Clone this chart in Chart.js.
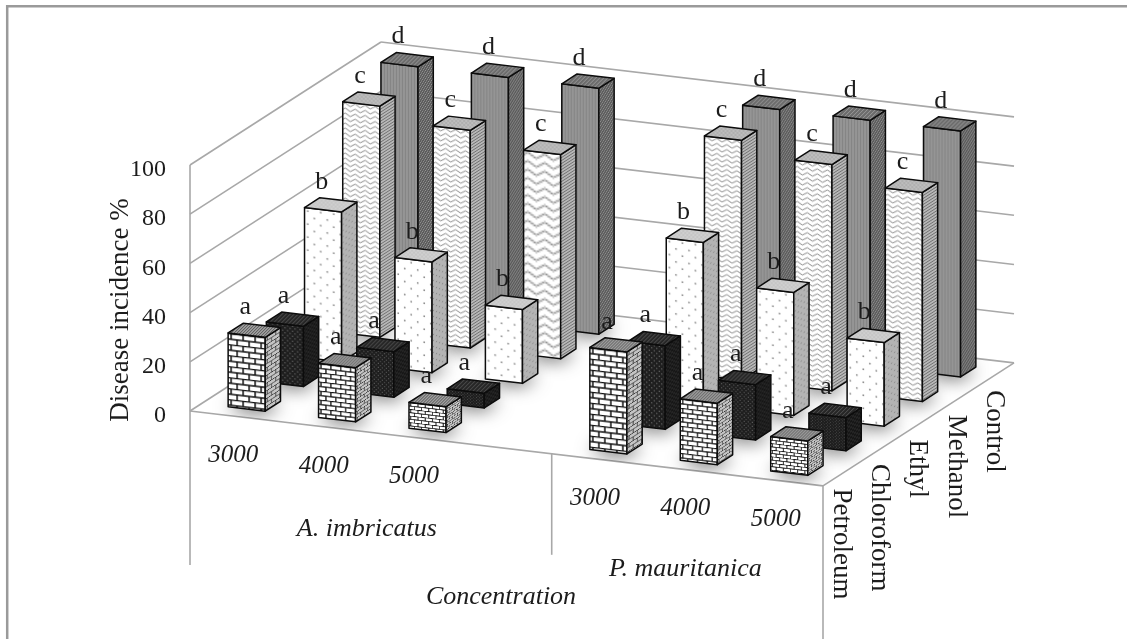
<!DOCTYPE html>
<html>
<head>
<meta charset="utf-8">
<style>
html, body { margin: 0; padding: 0; background: #fff; }
#wrap { width: 1127px; height: 639px; position: relative; }
</style>
</head>
<body>
<div id="wrap"><canvas id="c" width="1127" height="639"></canvas></div>
<script src="https://cdn.jsdelivr.net/npm/chart.js@4"></script>
<script>
// values, blank slot separates the two species
const concentrations = ['3000', '4000', '5000', '', '3000', '4000', '5000'];
const solvents = ['Petroleum', 'Chloroform', 'Ethyl', 'Methanol', 'Control'];
const letters = ['a', 'a', 'b', 'c', 'd'];
const species = ['A. imbricatus', 'P. mauritanica'];
const petroleum = [30, 22, 10.5, null, 41.5, 25, 14];
const chloroform = [24.5, 18.5, 6, null, 34, 22.5, 13.5];
const ethyl = [61, 45, 30, null, 66, 50, 34];
const methanol = [94, 88.5, 83, null, 97.5, 92, 85];
const control = [100, 100, 100, null, 100, 100, 100];

const SERIF = '"Liberation Serif", serif';
const GRID = '#a8a8a8';
const TEXT = '#1c1c1c';

// oblique projection of the floor, pixels per slot
const DEPTH_X = 38.2, DEPTH_Y = -24.6, SKEW_Y = 10.7;
const BAR_W = 0.41, BAR_D = 0.4;

function tile(w, h, scale, draw) {
    const c = document.createElement('canvas');
    c.width = w; c.height = h;
    draw(c.getContext('2d'));
    const p = document.getElementById('c').getContext('2d').createPattern(c, 'repeat');
    p.setTransform(new DOMMatrix().scale(scale));
    return p;
}

function brick(bg, line, lw, scale) {
    return tile(12, 11, scale, g => {
        g.fillStyle = bg; g.fillRect(0, 0, 12, 11);
        g.strokeStyle = line; g.lineWidth = lw;
        g.beginPath();
        g.moveTo(0, 0.5); g.lineTo(12, 0.5);
        g.moveTo(0, 6); g.lineTo(12, 6);
        g.moveTo(3, 0); g.lineTo(3, 6);
        g.moveTo(9, 6); g.lineTo(9, 11);
        g.stroke();
    });
}

function dots(bg, dot, size, r, scale) {
    return tile(size, size, scale || 1, g => {
        g.fillStyle = bg; g.fillRect(0, 0, size, size);
        g.fillStyle = dot;
        g.fillRect(size / 4 - r / 2, size / 4 - r / 2, r, r);
        g.fillRect(3 * size / 4 - r / 2, 3 * size / 4 - r / 2, r, r);
    });
}

function wave(scale) {
    return tile(10, 5, scale, g => {
        g.fillStyle = '#fff'; g.fillRect(0, 0, 10, 5);
        g.strokeStyle = '#8a8a8a'; g.lineWidth = 1;
        g.beginPath();
        g.moveTo(0, 2.5);
        g.quadraticCurveTo(2.5, -0.5, 5, 2.5);
        g.quadraticCurveTo(7.5, 5.5, 10, 2.5);
        g.stroke();
    });
}

function hstripes(bg, line, gap) {
    return tile(4, gap, 1, g => {
        g.fillStyle = bg; g.fillRect(0, 0, 4, gap);
        g.fillStyle = line; g.fillRect(0, 0, 4, 1);
    });
}

function vstripes(bg, line, gap) {
    return tile(gap, 4, 1, g => {
        g.fillStyle = bg; g.fillRect(0, 0, gap, 4);
        g.fillStyle = line; g.fillRect(0, 0, 1, 4);
    });
}

function diag(bg, line, gap) {
    return tile(gap, gap, 1, g => {
        g.fillStyle = bg; g.fillRect(0, 0, gap, gap);
        g.strokeStyle = line; g.lineWidth = 1;
        g.beginPath();
        g.moveTo(-1, 1); g.lineTo(1, -1);
        g.moveTo(0, gap); g.lineTo(gap, 0);
        g.moveTo(gap - 1, gap + 1); g.lineTo(gap + 1, gap - 1);
        g.stroke();
    });
}

// finer texture on the higher doses, as in the figure
const brickScale = [1, 0.82, 0.6, 1, 1, 0.82, 0.6];

function facesFor(d, i) {
    const s = brickScale[i];
    if (d === 0) return {
        front: brick('#fff', '#111', 1.5, s),
        side: brick('#c4c4c4', '#333', 1.2, s * 0.7),
        top: diag('#a0a0a0', '#555', 3)
    };
    if (d === 1) return {
        front: dots('#1e1e1e', '#8a8a8a', 5, 1, s),
        side: dots('#161616', '#555', 4, 1),
        top: diag('#262626', '#555', 4)
    };
    if (d === 2) return {
        front: dots('#fff', '#8a8a8a', 13, 1.6),
        side: dots('#b4b4b4', '#888', 6, 1.2),
        top: dots('#cfcfcf', '#aaa', 4, 1)
    };
    if (d === 3) return {
        front: (i === 2) ? wave(1.7) : wave(1),
        side: hstripes('#b8b8b8', '#707070', 3),
        top: dots('#bdbdbd', '#8a8a8a', 4, 1)
    };
    return {
        front: vstripes('#959595', '#848484', 3),
        side: diag('#5c5c5c', '#999', 4),
        top: diag('#6c6c6c', '#9a9a9a', 4)
    };
}

function poly(ctx, pts) {
    ctx.beginPath();
    pts.forEach((p, k) => k ? ctx.lineTo(p.x, p.y) : ctx.moveTo(p.x, p.y));
    ctx.closePath();
}

function line(ctx, a, b) {
    ctx.beginPath();
    ctx.moveTo(a.x, a.y);
    ctx.lineTo(b.x, b.y);
    ctx.stroke();
}

function label(ctx, text, x, y, font, rot) {
    ctx.save();
    ctx.translate(x, y);
    if (rot) ctx.rotate(rot);
    ctx.font = font;
    ctx.fillStyle = TEXT;
    ctx.fillText(text, 0, 0);
    ctx.restore();
}

const bars3d = {
    id: 'bars3d',
    beforeDatasetsDraw(chart) {
        const ctx = chart.ctx;
        const xs = chart.scales.x, ys = chart.scales.y;
        const step = xs.getPixelForValue(1) - xs.getPixelForValue(0);
        const left = xs.getPixelForValue(0) - step / 2;
        const n = concentrations.length, m = solvents.length;

        // u along the categories, d into the depth, v up the value axis
        const P = (u, d, v) => ({
            x: left + u * step + d * DEPTH_X,
            y: ys.getPixelForValue(v) + u * SKEW_Y + d * DEPTH_Y
        });

        // frame of the figure, open on the right
        ctx.save();
        ctx.strokeStyle = '#9a9a9a';
        ctx.lineWidth = 2.5;
        ctx.beginPath();
        ctx.moveTo(7.2, 640); ctx.lineTo(7.2, 6.2); ctx.lineTo(1128, 6.2);
        ctx.stroke();

        // walls and floor
        ctx.strokeStyle = GRID;
        ctx.lineWidth = 1.6;
        ys.ticks.forEach(t => {
            if (t.value === 0) return;
            line(ctx, P(0, 0, t.value), P(0, m, t.value));
            line(ctx, P(0, m, t.value), P(n, m, t.value));
        });
        line(ctx, P(0, 0, 0), P(0, 0, ys.max));
        line(ctx, P(0, 0, 0), P(0, m, 0));
        line(ctx, P(0, m, 0), P(n, m, 0));
        line(ctx, P(n, m, 0), P(n, 0, 0));
        line(ctx, P(n, 0, 0), P(0, 0, 0));

        // species dividers hang below the front edge
        const drop = [154, 101, 153];
        [0, 4, n].forEach((u, k) => {
            const a = P(u, 0, 0);
            line(ctx, a, { x: a.x, y: a.y + drop[k] });
        });

        // soft shadows on the floor
        ctx.save();
        poly(ctx, [P(0, 0, 0), P(n, 0, 0), P(n, m, 0), P(0, m, 0)]);
        ctx.clip();
        chart.data.datasets.forEach((ds, d) => ds.data.forEach((v, i) => {
            if (v === null) return;
            const u0 = i + (1 - BAR_W) / 2, d0 = d + (1 - BAR_D) / 2;
            ctx.save();
            ctx.shadowColor = 'rgba(0,0,0,0.7)';
            ctx.shadowBlur = 18;
            ctx.shadowOffsetY = 2;
            ctx.fillStyle = '#888';
            poly(ctx, [P(u0, d0, 0), P(u0 + BAR_W, d0, 0), P(u0 + BAR_W, d0 + BAR_D, 0), P(u0, d0 + BAR_D, 0)]);
            ctx.fill();
            ctx.restore();
        }));
        ctx.restore();

        // back rows first so the front rows overlap them
        ctx.strokeStyle = '#0c0c0c';
        ctx.lineWidth = 1.5;
        ctx.lineJoin = 'round';
        for (let d = m - 1; d >= 0; d--) {
            chart.data.datasets[d].data.forEach((v, i) => {
                if (v === null) return;
                const u0 = i + (1 - BAR_W) / 2, d0 = d + (1 - BAR_D) / 2;
                const u1 = u0 + BAR_W, d1 = d0 + BAR_D;
                const f = facesFor(d, i);
                const a = P(u0, d0, 0), b = P(u1, d0, 0), c = P(u1, d1, 0);
                const at = P(u0, d0, v), bt = P(u1, d0, v), ct = P(u1, d1, v), dt = P(u0, d1, v);

                const face = (pts, pat, o, ux, uy, vx, vy) => {
                    ctx.save();
                    poly(ctx, pts);
                    ctx.clip();
                    ctx.transform(ux, uy, vx, vy, o.x, o.y);
                    ctx.fillStyle = pat;
                    ctx.fillRect(-200, -200, 600, 700);
                    ctx.restore();
                    poly(ctx, pts);
                    ctx.stroke();
                };
                const w = Math.abs(b.x - a.x);
                const wy = (b.y - a.y) / w;
                const sy = (c.y - b.y) / (c.x - b.x);
                face([at, bt, b, a], f.front, at, 1, wy, 0, 1);
                face([bt, ct, c, b], f.side, bt, 1, sy, 0, 1);
                face([dt, ct, bt, at], f.top, at, 1, 0, 0, 1);
            });
        }

        // letters sit on top of every bar
        ctx.textAlign = 'center';
        ctx.textBaseline = 'middle';
        chart.data.datasets.forEach((ds, d) => ds.data.forEach((v, i) => {
            if (v === null) return;
            const p = P(i + 0.5, d + 0.5, v);
            label(ctx, letters[d], p.x - 9, p.y - 23, '26px ' + SERIF);
        }));

        // category labels under the front edge
        concentrations.forEach((t, i) => {
            const p = P(i + 0.5, 0, 0);
            label(ctx, t, p.x - 2, p.y + 39, 'italic 25px ' + SERIF);
        });
        const a1 = P(2, 0, 0), a2 = P(5.5, 0, 0);
        label(ctx, species[0], a1.x - 4, a1.y + 97, 'italic 26px ' + SERIF);
        label(ctx, species[1], a2.x - 2, a2.y + 99, 'italic 26px ' + SERIF);
        label(ctx, 'Concentration', 501, 597, 'italic 26px ' + SERIF);

        // value axis title
        const mid = ys.getPixelForValue(50);
        label(ctx, 'Disease incidence %', 121, mid + 22, '27px ' + SERIF, -Math.PI / 2);

        // solvent names along the right floor edge, reading downward
        ctx.textAlign = 'left';
        solvents.forEach((t, d) => {
            const p = P(n, d + 0.5, 0);
            label(ctx, t, p.x - 1, p.y + 15, '27px ' + SERIF, Math.PI / 2);
        });
        ctx.restore();
        return false;
    }
};

const chart = new Chart(document.getElementById('c').getContext('2d'), {
    type: 'bar',
    data: {
        labels: concentrations,
        datasets: [
            { label: solvents[0], data: petroleum },
            { label: solvents[1], data: chloroform },
            { label: solvents[2], data: ethyl },
            { label: solvents[3], data: methanol },
            { label: solvents[4], data: control }
        ]
    },
    plugins: [bars3d],
    options: {
        responsive: false,
        animation: false,
        events: [],
        layout: { padding: { left: 105, right: 304, top: 165, bottom: 228 } },
        plugins: { legend: { display: false }, tooltip: { enabled: false } },
        scales: {
            x: { display: false, type: 'category' },
            y: {
                min: 0,
                max: 100,
                grid: { display: false },
                border: { display: false },
                ticks: { stepSize: 20, padding: 16, labelOffset: 5, color: TEXT, font: { family: 'Liberation Serif', size: 24 } },
                afterFit(scale) { scale.width = 85; }
            }
        }
    }
});
</script>
</body>
</html>
